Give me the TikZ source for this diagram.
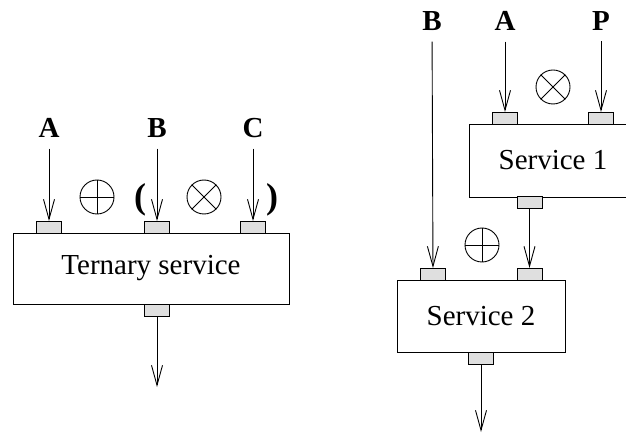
\documentclass[tikz,border=0pt]{standalone}
\usepackage{fontspec}
\setmainfont{Liberation Serif}
\usetikzlibrary{arrows.meta}
\begin{document}
\begin{tikzpicture}[x=1pt,y=-1pt,line width=0.9pt,font=\fontsize{29}{34}\selectfont,
    >={Straight Barb[length=20pt,width=11pt]}]
\tikzstyle{service}=[draw, rectangle, inner sep=0pt, minimum width=168pt, minimum height=72pt]
\tikzstyle{port}=[draw, rectangle, fill=gray!25, inner sep=0pt, outer sep=0pt, minimum width=25pt, minimum height=12pt]
\tikzstyle{input}=[font=\fontsize{29}{34}\selectfont\bfseries, inner sep=0pt, outer sep=11pt]
\tikzstyle{paren}=[font=\fontsize{36}{40}\selectfont\bfseries, inner sep=0pt]
\tikzstyle{op}=[draw, circle, inner sep=0pt, minimum size=34pt]
\useasboundingbox (0,0) rectangle (626,435);

\node[service, minimum width=276pt, minimum height=71pt] (tern) at (151,268.5) {Ternary service};
\node[port] (tA) at (49,227) {};
\node[port] (tB) at (157,227) {};
\node[port] (tC) at (253,227) {};
\node[port] (tOut) at (157,310.5) {};
\node[input] (inA) at (49,128) {A};
\node[input] (inB) at (157,128) {B};
\node[input] (inC) at (253,128) {C};
\node[paren] (open) at (140,200) {(};
\node[paren] (close) at (272,200) {)};
\node[op] (plusL) at (97,197) {};
\node[op] (timesL) at (204,197) {};
\coordinate (outL) at (157,387);

\draw (plusL.north) -- (plusL.south) (plusL.west) -- (plusL.east);
\draw (timesL.north west) -- (timesL.south east) (timesL.north east) -- (timesL.south west);
\draw[->] (inA) -- (tA);
\draw[->] (inB) -- (tB);
\draw[->] (inC) -- (tC);
\draw[->] (tOut) -- (outL);

\node[service, minimum height=73pt] (s1) at (553,160.5) {Service 1};
\node[port] (s1A) at (505,118) {};
\node[port] (s1P) at (601,118) {};
\node[port] (s1Out) at (529.5,202.5) {};
\node[service] (s2) at (481,316) {Service 2};
\node[port] (s2B) at (433,274) {};
\node[port] (s2In) at (529.5,274) {};
\node[port] (s2Out) at (481,358) {};
\node[input] (inB2) at (432,21) {B};
\node[input] (inA2) at (505,21) {A};
\node[input] (inP) at (601,21) {P};
\node[op] (timesR) at (553,87) {};
\node[op] (plusR) at (482,245) {};
\coordinate (outR) at (481,432);

\draw (timesR.north west) -- (timesR.south east) (timesR.north east) -- (timesR.south west);
\draw (plusR.north) -- (plusR.south) (plusR.west) -- (plusR.east);
\draw[->] (inB2) -- (s2B);
\draw[->] (inA2) -- (s1A);
\draw[->] (inP) -- (s1P);
\draw[->] (s1Out) -- (s2In);
\draw[->] (s2Out) -- (outR);
\end{tikzpicture}
\end{document}
